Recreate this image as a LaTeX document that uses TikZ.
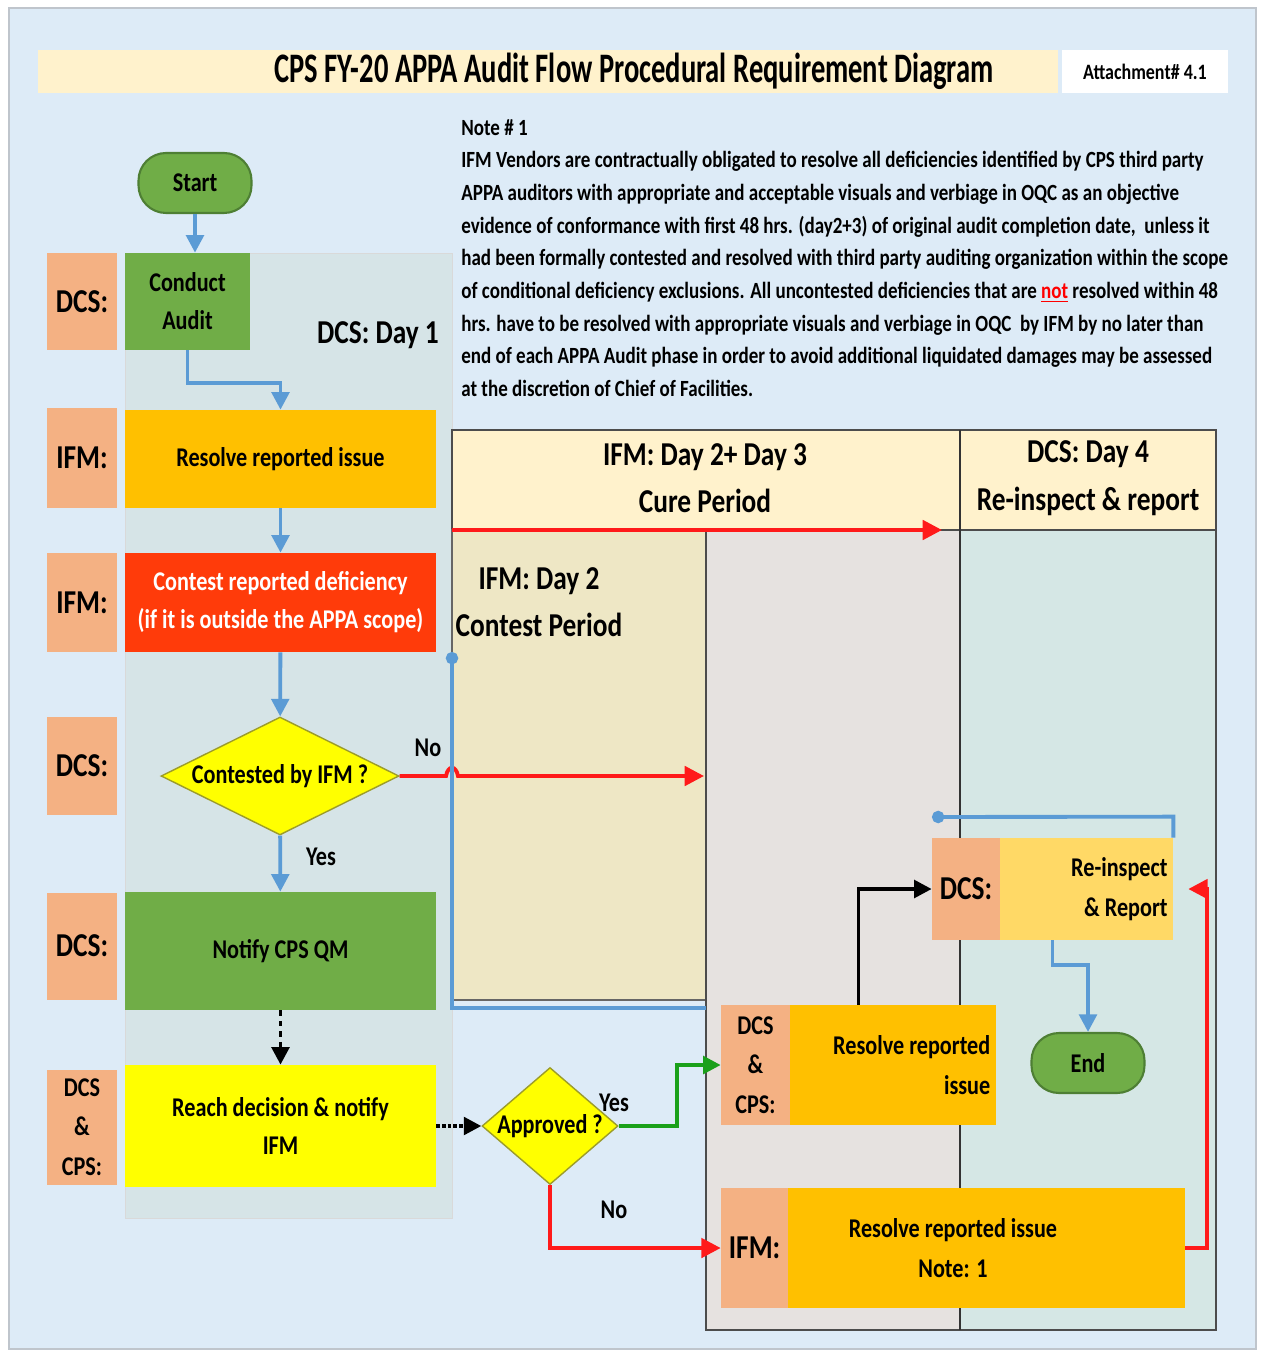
\documentclass[tikz,border=0pt]{standalone}
\usepackage{fontspec}
\setmainfont{Carlito}[FakeStretch=0.82]
\newfontfamily\titlefamily{Carlito}[FakeStretch=0.68]
\usepackage{xcolor}
\usetikzlibrary{positioning,arrows.meta,shapes.geometric}
\definecolor{pageBlue}{HTML}{DDEBF7}
\definecolor{frameGray}{HTML}{BFC5CC}
\definecolor{titleCream}{HTML}{FFF2CC}
\definecolor{roleSalmon}{HTML}{F4B183}
\definecolor{taskGreen}{HTML}{70AD47}
\definecolor{termEdge}{HTML}{4E7F34}
\definecolor{taskOrange}{HTML}{FFC000}
\definecolor{contestRed}{HTML}{FF3B0A}
\definecolor{decisionYellow}{HTML}{FFFF00}
\definecolor{decisionEdge}{HTML}{9C9C2A}
\definecolor{dayOnePanel}{HTML}{D6E4E7}
\definecolor{contestBeige}{HTML}{EEE7C5}
\definecolor{cureGray}{HTML}{E6E2E0}
\definecolor{dayFourTeal}{HTML}{D5E7E5}
\definecolor{reinspYellow}{HTML}{FFD966}
\definecolor{flowBlueC}{HTML}{5B9BD5}
\definecolor{flowRedC}{HTML}{FF1A1A}
\definecolor{flowGreenC}{HTML}{1AA01A}
\newcommand{\fntTitle}{\titlefamily\bfseries\fontsize{23.9}{27}\selectfont}
\newcommand{\fntNote}{\bfseries\fontsize{13.2}{18.6}\selectfont}
\newcommand{\fntRole}{\bfseries\fontsize{19}{22}\selectfont}
\newcommand{\fntHead}{\bfseries\fontsize{19}{27}\selectfont}
\newcommand{\fntBox}{\bfseries\fontsize{15.4}{21.6}\selectfont}
\newcommand{\fntTag}{\bfseries\fontsize{15.4}{22.4}\selectfont}
\newcommand{\fntSmall}{\bfseries\fontsize{12.5}{15}\selectfont}

\begin{document}
\begin{tikzpicture}[x=0.02cm, y=-0.02cm,
    role/.style={fill=roleSalmon, minimum width=1.4cm, inner sep=0pt, font=\fntRole, align=center},
    task/.style={minimum width=6.22cm, inner sep=0pt, font=\fntBox, align=center},
    term/.style={draw=termEdge, line width=1.2pt, fill=taskGreen, rounded corners=0.55cm, minimum width=2.26cm, minimum height=1.2cm, font=\fntBox},
    decision/.style={diamond, draw=decisionEdge, line width=0.8pt, fill=decisionYellow, inner sep=0pt, font=\fntBox},
    tagbox/.style={fill=roleSalmon, inner sep=0pt, anchor=west, align=center},
    lbl/.style={font=\fntBox, inner sep=0pt},
    flow/.style={line width=2.2pt, -{Triangle[length=10pt,width=10pt]}},
    flowBlue/.style={flow, draw=flowBlueC},
    flowRed/.style={line width=2.2pt, draw=flowRedC, -{Triangle[length=11pt,width=11pt]}},
    flowGreen/.style={flow, draw=flowGreenC},
    flowBlack/.style={flow, draw=black},
  ]
  \useasboundingbox (0,0) rectangle (1261,1354);
  \fill[white] (0,0) rectangle (1261,1354);
  \filldraw[fill=pageBlue, draw=frameGray, line width=1pt] (9,8) rectangle (1256,1349);

  % title bar
  \fill[titleCream] (38,50) rectangle (1058,93);
  \node[font=\fntTitle] (title) at (634,71) {CPS FY-20 APPA Audit Flow Procedural Requirement Diagram};
  \node[fill=white, minimum width=3.32cm, minimum height=0.86cm, font=\fntSmall] (attach) at (1145,71.5) {Attachment\# 4.1};

  % note
  \node[anchor=north west, inner sep=0pt, align=left, font=\fntNote] (note) at (461,119) {Note \# 1\\
    IFM Vendors are contractually obligated to resolve all deficiencies identified by CPS third party\\
    APPA auditors with appropriate and acceptable visuals and verbiage in OQC as an objective\\
    evidence of conformance with first 48 hrs. (day2+3) of original audit completion date,\ \ unless it\\
    had been formally contested and resolved with third party auditing organization within the scope\\
    of conditional deficiency exclusions. All uncontested deficiencies that are \textcolor{red}{\underline{not}} resolved within 48\\
    hrs. have to be resolved with appropriate visuals and verbiage in OQC\ \ by IFM by no later than\\
    end of each APPA Audit phase in order to avoid additional liquidated damages may be assessed\\
    at the discretion of Chief of Facilities.};

  % panels
  \filldraw[fill=dayOnePanel, draw=black!15] (125,253) rectangle (452,1218);
  \filldraw[fill=titleCream, draw=black!70, line width=0.8pt] (452,430) rectangle (1216,530);
  \filldraw[fill=contestBeige, draw=black!60, line width=0.8pt] (452,530) rectangle (706,1000);
  \filldraw[fill=cureGray, draw=black!70, line width=0.8pt] (706,530) rectangle (960,1330);
  \filldraw[fill=dayFourTeal, draw=black!70, line width=0.8pt] (960,530) rectangle (1216,1330);
  \draw[black!80, line width=0.8pt] (960,430) -- (960,1330);

  \node[font=\fntHead] (dayOneHead) at (378,335) {DCS: Day 1};
  \node[font=\fntHead, align=center] (cureHead) at (705,478) {IFM: Day 2+ Day 3\\Cure Period};
  \node[font=\fntHead, align=center] (reinsHead) at (1088,478) {DCS: Day 4\\Re-inspect \& report};
  \node[font=\fntHead, align=center] (contestHead) at (539,602) {IFM: Day 2\\Contest Period};

  % day 1 lane
  \node[role, minimum height=1.94cm] (roleA) at (82,301.5) {DCS:};
  \node[role, minimum height=2cm] (roleB) at (82,458) {IFM:};
  \node[role, minimum height=1.98cm] (roleC) at (82,602.5) {IFM:};
  \node[role, minimum height=1.98cm] (roleD) at (82,766) {DCS:};
  \node[role, minimum height=2.14cm] (roleE) at (82,946) {DCS:};
  \node[role, minimum height=2.3cm, font=\fntTag] (roleF) at (82,1127) {DCS\\\&\\CPS:};

  \node[term] (start) at (195,183) {Start};
  \node[task, fill=taskGreen, minimum width=2.5cm, minimum height=1.94cm] (audit) at (187.5,301.5) {Conduct\\Audit};
  \node[task, fill=taskOrange, minimum height=1.96cm] (resolveA) at (280.5,459) {Resolve reported issue};
  \node[task, fill=contestRed, text=white, minimum height=1.98cm] (contest) at (280.5,602.5) {Contest reported deficiency\\(if it is outside the APPA scope)};
  \node[decision, minimum width=4.76cm, minimum height=2.36cm] (contested) at (280,776) {\makebox[0pt]{Contested by IFM ?}};
  \node[task, fill=taskGreen, minimum height=2.36cm] (notify) at (280.5,951) {Notify CPS QM};
  \node[task, fill=decisionYellow, minimum height=2.44cm] (reach) at (280.5,1126) {Reach decision \& notify\\IFM};
  \node[decision, minimum width=2.72cm, minimum height=2.34cm] (approved) at (550,1126) {\makebox[0pt]{Approved ?}};

  % days 2-4
  \node[task, fill=reinspYellow, minimum width=4.82cm, minimum height=2.04cm, text width=131pt, align=flush right, inner sep=3pt, font=\fntTag] (reins) at (1052.5,889) {Re-inspect\\\& Report};
  \node[tagbox, minimum width=1.36cm, minimum height=2.04cm, font=\fntRole] (reinsTag) at (reins.west) {DCS:};
  \node[task, fill=taskOrange, minimum width=5.5cm, minimum height=2.4cm, text width=150pt, align=flush right, inner sep=3pt, font=\fntTag] (resolveB) at (858.5,1065) {Resolve reported\\issue};
  \node[tagbox, minimum width=1.38cm, minimum height=2.4cm, font=\fntTag] (resolveBTag) at (resolveB.west) {DCS\\\&\\CPS:};
  \node[task, fill=taskOrange, minimum width=9.28cm, minimum height=2.4cm, font=\fntTag] (resolveC) at (953,1248) {Resolve reported issue\\Note: 1};
  \node[tagbox, minimum width=1.34cm, minimum height=2.4cm, font=\fntRole] (resolveCTag) at (resolveC.west) {IFM:};
  \node[term] (finish) at (1088,1063) {End};

  \coordinate (noEnd) at (704,776);
  \coordinate (cureStart) at (452,530);
  \coordinate (cureEnd) at (942,530);
  \coordinate (sideTop) at (452,652);
  \coordinate (sideEnd) at (706,1008);
  \coordinate (loopEnd) at (932,817);

  % connectors
  \draw[flowBlue] (start.south) -- (start.south |- audit.north);
  \draw[flowBlue] (audit.south) -- ++(0,33) -| (resolveA.north);
  \draw[flowBlue] (resolveA) -- (contest);
  \draw[flowBlue] (contest) -- (contested);
  \draw[flowBlue] (contested) -- (notify);
  \node[lbl] (yesA) at (321,857) {Yes};
  \draw[flowBlack, dashed] (notify) -- (reach);
  \draw[flowBlack, densely dotted] (reach) -- (approved);
  \draw[flowRed] (contested.east) -- (446,776) .. controls (448,765) and (456,765) .. (458,776) -- (noEnd);
  \node[lbl] (noA) at (428,748) {No};
  \draw[flowRed] (cureStart) -- (cureEnd);
  \draw[line width=2.2pt, draw=flowBlueC, {Circle[length=7pt]}-] (sideTop) |- (sideEnd);
  \draw[flowGreen] (approved.east) -- ++(58,0) |- (resolveBTag.west);
  \node[lbl] (yesB) at (614,1103) {Yes};
  \draw[flowRed] (approved.south) |- (resolveCTag.west);
  \node[lbl] (noB) at (614,1210) {No};
  \draw[flowBlack] (resolveB.north) |- (reinsTag.west);
  \draw[flowRed, shorten >=0.3cm] (resolveC.east) -- ++(22,0) |- (reins.east);
  \draw[flowBlue] (reins.south) -- ++(0,25) -| (finish.north);
  \draw[line width=2.2pt, draw=flowBlueC, -{Circle[length=7pt]}] (reins.north east) -- ++(0,-21) -- (loopEnd);
\end{tikzpicture}
\end{document}
